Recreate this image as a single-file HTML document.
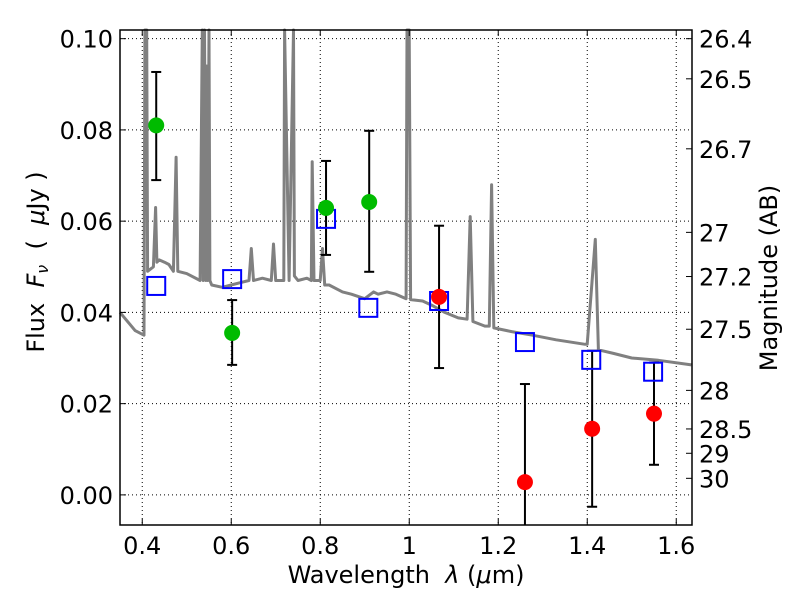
<!DOCTYPE html>
<html><head><meta charset="utf-8"><style>
body{margin:0;background:#fff;width:800px;height:600px;overflow:hidden}
text{font-family:"DejaVu Sans","Liberation Sans",sans-serif;font-size:24px;fill:#000}
</style></head><body>
<svg id="chart" width="800" height="600" xmlns="http://www.w3.org/2000/svg">
<g id="grid"></g>
<g id="spec"></g>
<g id="pts"></g>
<rect x="120" y="30" width="572" height="495" fill="none" stroke="#000" stroke-width="1.5"/>
<g id="axes"></g>
<text x="406" y="583" text-anchor="middle" xml:space="preserve">Wavelength  <tspan font-style="italic">λ</tspan> (<tspan font-style="italic">μ</tspan>m)</text>
<text transform="translate(44,262) rotate(-90)" text-anchor="middle" xml:space="preserve">Flux  <tspan font-style="italic">F</tspan><tspan font-style="italic" font-size="16" dy="4">ν</tspan><tspan dy="-4">  (  </tspan><tspan font-style="italic">μ</tspan>Jy )</text>
<text transform="translate(777,278) rotate(-90)" text-anchor="middle">Magnitude (AB)</text>
</svg>
<script>
const xTicks=[0.4,0.6,0.8,1.0,1.2,1.4,1.6];
const xTickLabels=["0.4","0.6","0.8","1","1.2","1.4","1.6"];
const yTicks=[0,0.02,0.04,0.06,0.08,0.10];
const yTickLabels=["0.00","0.02","0.04","0.06","0.08","0.10"];
const magTicks=[26.4,26.5,26.7,27,27.2,27.5,28,28.5,29,30];
const specWave=[0.35,0.384,0.404,0.406,0.41,0.412,0.425,0.43,0.433,0.438,0.45,0.46,0.47,0.476,0.48,0.5,0.53,0.535,0.537,0.54,0.543,0.545,0.547,0.55,0.552,0.556,0.58,0.6,0.62,0.64,0.645,0.65,0.67,0.69,0.695,0.7,0.718,0.72,0.73,0.74,0.742,0.75,0.77,0.78,0.782,0.786,0.8,0.805,0.81,0.82,0.85,0.87,0.9,0.92,0.93,0.95,0.97,0.993,0.995,1.0,1.003,1.03,1.05,1.08,1.11,1.13,1.137,1.143,1.17,1.18,1.185,1.19,1.23,1.277,1.33,1.395,1.4,1.418,1.425,1.46,1.5,1.56,1.634];
const specFlux=[0.040,0.036,0.035,0.12,0.12,0.049,0.050,0.063,0.051,0.0515,0.051,0.0505,0.049,0.074,0.049,0.0485,0.047,0.12,0.047,0.12,0.047,0.094,0.047,0.12,0.047,0.046,0.0455,0.046,0.0465,0.047,0.054,0.047,0.0475,0.047,0.055,0.047,0.047,0.12,0.047,0.12,0.048,0.047,0.0475,0.047,0.073,0.047,0.047,0.054,0.046,0.046,0.0445,0.044,0.043,0.0445,0.044,0.0445,0.044,0.043,0.12,0.12,0.0428,0.0425,0.0416,0.040,0.0388,0.0385,0.061,0.038,0.037,0.037,0.068,0.0366,0.0358,0.035,0.034,0.033,0.033,0.056,0.0318,0.031,0.030,0.0295,0.0285];
const photWave=[0.4314,0.602,0.813,0.91,1.067,1.26,1.411,1.55];
const photFlux=[0.081,0.0355,0.0629,0.0642,0.0434,0.0028,0.0145,0.0178];
const errLow=[0.069,0.0285,0.0526,0.0489,0.0278,-0.02,-0.0026,0.0066];
const errHigh=[0.0927,0.0427,0.0732,0.0798,0.059,0.0243,0.0316,0.029];
const photColor=["#00bb00","#00bb00","#00bb00","#00bb00","#ff0000","#ff0000","#ff0000","#ff0000"];
const modelWave=[0.4314,0.602,0.813,0.908,1.067,1.26,1.409,1.548];
const modelFlux=[0.0458,0.0473,0.0605,0.041,0.0425,0.0335,0.0296,0.027];

const X0=120,X1=692,Y0=525,Y1=30,xmin=0.35,xmax=1.6354,ymin=-0.0066,ymax=0.1019;
const sx=v=>X0+(v-xmin)/(xmax-xmin)*(X1-X0);
const sy=v=>Y0-(v-ymin)/(ymax-ymin)*(Y0-Y1);
const NS="http://www.w3.org/2000/svg";
function mk(tag,attrs,parent){const e=document.createElementNS(NS,tag);for(const k in attrs)e.setAttribute(k,attrs[k]);parent.appendChild(e);return e;}
const grid=document.getElementById('grid'),axes=document.getElementById('axes'),spec=document.getElementById('spec'),pts=document.getElementById('pts');
xTicks.forEach((t,i)=>{const x=sx(t);
 const g=mk('line',{x1:x,x2:x,y1:Y1,y2:Y0,stroke:'#000','stroke-width':1,'stroke-dasharray':'1,3'},grid);
 
 mk('line',{x1:x,x2:x,y1:Y0,y2:Y0-6,stroke:'#000'},axes);mk('line',{x1:x,x2:x,y1:Y1,y2:Y1+6,stroke:'#000'},axes);
 const l=mk('text',{x:x,y:554,'text-anchor':'middle'},axes);l.textContent=xTickLabels[i];
 });
yTicks.forEach((t,i)=>{const y=sy(t);
 const g=mk('line',{x1:X0,x2:X1,y1:y,y2:y,stroke:'#000','stroke-width':1,'stroke-dasharray':'1,3'},grid);
 
 mk('line',{x1:X0,x2:X0+6,y1:y,y2:y,stroke:'#000'},axes);
 const l=mk('text',{x:113,y:y+9,'text-anchor':'end'},axes);l.textContent=yTickLabels[i];
 });
magTicks.forEach(m=>{const y=sy(Math.pow(10,(23.9-m)/2.5));
 mk('line',{x1:X1,x2:X1-6,y1:y,y2:y,stroke:'#000'},axes);
 const l=mk('text',{x:699,y:y+9},axes);l.textContent=String(m);
 });
const d=specWave.map((w,i)=>(i?'L':'M')+sx(w).toFixed(1)+','+Math.max(Y1,sy(specFlux[i])).toFixed(1)).join('');
const p=mk('path',{d:d,fill:'none',stroke:'#808080','stroke-width':3,'stroke-linejoin':'round'},spec);

photWave.forEach((w,i)=>{const x=sx(w);
 const e=mk('line',{x1:x,x2:x,y1:Math.min(Y0,sy(errLow[i])),y2:sy(errHigh[i]),stroke:'#000','stroke-width':2},pts);
 
 [errLow[i],errHigh[i]].forEach(v=>{const y=sy(v);if(y<=Y0)mk('line',{x1:x-5,x2:x+5,y1:y,y2:y,stroke:'#000','stroke-width':2},pts);});});
modelWave.forEach((w,i)=>{const r=mk('rect',{x:sx(w)-9,y:sy(modelFlux[i])-9,width:18,height:18,fill:'none',stroke:'#0000ff','stroke-width':2},pts);
 });
photWave.forEach((w,i)=>{const c=mk('circle',{cx:sx(w),cy:sy(photFlux[i]),r:8,fill:photColor[i]},pts);
 });
</script>
</body></html>
